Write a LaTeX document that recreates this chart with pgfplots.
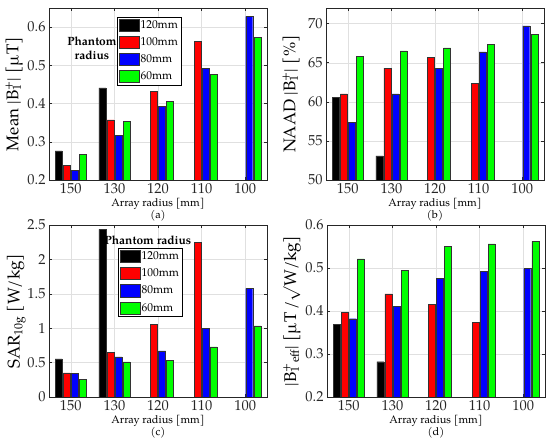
\documentclass[border=0pt]{standalone}
\usepackage{pgfplots}
\pgfplotsset{compat=1.18}
\usepackage{fontspec}
\setmainfont{TeX Gyre Pagella}
\definecolor{mred}{RGB}{255,0,0}
\definecolor{mblue}{RGB}{0,0,255}
\definecolor{mgreen}{RGB}{0,255,0}
\pgfplotsset{
  panel/.style={
    width=218bp, height=172bp, scale only axis,
    xmin=0.5, xmax=5.5, xtick={1,2,3,4,5}, xticklabels={150,130,120,110,100},
    grid=major, grid style={black!12, line width=0.4bp},
    axis line style={black!85, line width=0.5bp},
    tick align=inside, major tick length=3bp, tick style={black!85, line width=0.5bp},
    ticklabel style={font=\fontsize{14.5}{15}\selectfont, text=black!85},
    /pgf/number format/assume math mode=true,
    xlabel style={font=\fontsize{11}{11.8}\selectfont, align=center, at={(axis description cs:0.5,0)}, anchor=center, yshift=-30bp},
    ylabel style={font=\fontsize{17}{18}\selectfont, at={(axis description cs:-0.16,0.5)}, anchor=center},
  },
  bb/.style={ybar, bar width=0.16, draw=black!80, line width=0.4bp,
    legend image code/.code={\draw[##1, line width=0.5bp] (0bp,-6bp) rectangle (20bp,6bp);}},
  s1/.style={bb, bar shift=-0.2775, fill=black},
  s2/.style={bb, bar shift=-0.0925, fill=mred},
  s3/.style={bb, bar shift=0.0925, fill=mblue},
  s4/.style={bb, bar shift=0.2775, fill=mgreen},
  leg/.style={legend style={at={(rel axis cs:#1)}, anchor=north west, draw=black, line width=0.5bp,
    font=\fontsize{11.5}{12}\selectfont, inner sep=2bp, row sep=4.6bp,
    nodes={inner sep=0.8bp}, legend cell align=left},
    legend cell align=left},
}
\begin{document}
\begin{tikzpicture}
\useasboundingbox (0,0) rectangle (550bp,445bp);
% (a)
\begin{axis}[panel, at={(49bp,265bp)}, anchor=south west,
  ymin=0.2, ymax=0.65, ytick={0.2,0.3,0.4,0.5,0.6},
  ylabel={Mean |B\rlap{\textsubscript{1}}\textsuperscript{+}| [µT]},
  xlabel={Array radius [mm]\\(a)},
  leg={0.312,0.948}]
\addplot[s1] coordinates {(1,0.276) (2,0.441)};
\addlegendentry{120mm}
\addplot[s2] coordinates {(1,0.239) (2,0.357) (3,0.432) (4,0.562)};
\addlegendentry{100mm}
\addplot[s3] coordinates {(1,0.225) (2,0.317) (3,0.392) (4,0.492) (5,0.628)};
\addlegendentry{80mm}
\addplot[s4] coordinates {(1,0.268) (2,0.354) (3,0.406) (4,0.476) (5,0.573)};
\addlegendentry{60mm}
\node[font=\bfseries\fontsize{12}{13.7}\selectfont, align=center] at (rel axis cs:0.197,0.765) {Phantom\\radius};
\end{axis}
% (b)
\begin{axis}[panel, at={(326bp,265bp)}, anchor=south west,
  ymin=50, ymax=72, ytick={50,55,60,65,70},
  ylabel={NAAD |B\rlap{\textsubscript{1}}\textsuperscript{+}| [\%]},
  xlabel={Array radius [mm]\\(b)}]
\addplot[s1] coordinates {(1,60.6) (2,53.1)};
\addplot[s2] coordinates {(1,61.0) (2,64.3) (3,65.7) (4,62.35)};
\addplot[s3] coordinates {(1,57.35) (2,61.0) (3,64.3) (4,66.4) (5,69.7)};
\addplot[s4] coordinates {(1,65.85) (2,66.5) (3,66.9) (4,67.35) (5,68.6)};
\end{axis}
% (c)
\begin{axis}[panel, at={(49bp,48bp)}, anchor=south west,
  ymin=0, ymax=2.5, ytick={0,0.5,1,1.5,2,2.5},
  ylabel={SAR\textsubscript{10g} [W/kg]},
  ylabel style={at={(axis description cs:-0.15,0.5)}},
  xlabel={Array radius [mm]\\(c)},
  leg={0.317,0.866}]
\addplot[s1] coordinates {(1,0.553) (2,2.437)};
\addlegendentry{120mm}
\addplot[s2] coordinates {(1,0.35) (2,0.65) (3,1.058) (4,2.25)};
\addlegendentry{100mm}
\addplot[s3] coordinates {(1,0.34) (2,0.583) (3,0.67) (4,0.995) (5,1.578)};
\addlegendentry{80mm}
\addplot[s4] coordinates {(1,0.252) (2,0.51) (3,0.534) (4,0.728) (5,1.034)};
\addlegendentry{60mm}
\node[font=\bfseries\fontsize{12}{13.7}\selectfont] at (rel axis cs:0.454,0.909) {Phantom radius};
\end{axis}
% (d)
\begin{axis}[panel, at={(327bp,48bp)}, anchor=south west,
  ymin=0.2, ymax=0.6, ytick={0.2,0.3,0.4,0.5,0.6},
  ylabel={|B\rlap{\textsubscript{1}}\textsuperscript{+}\textsubscript{eff}| [µT\,/$\surd$W/kg]},
  xlabel={Array radius [mm]\\(d)}]
\addplot[s1] coordinates {(1,0.369) (2,0.282)};
\addplot[s2] coordinates {(1,0.397) (2,0.44) (3,0.416) (4,0.373)};
\addplot[s3] coordinates {(1,0.382) (2,0.411) (3,0.476) (4,0.493) (5,0.499)};
\addplot[s4] coordinates {(1,0.521) (2,0.495) (3,0.551) (4,0.556) (5,0.562)};
\end{axis}
\end{tikzpicture}
\end{document}
